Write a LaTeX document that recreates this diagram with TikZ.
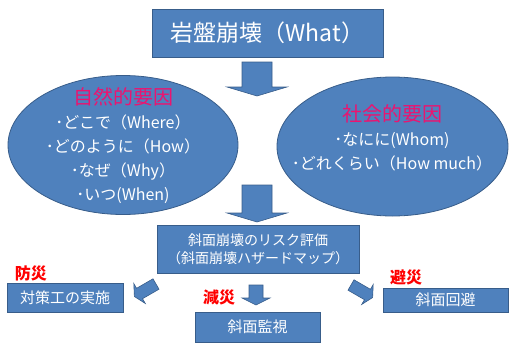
\documentclass[tikz,border=0pt]{standalone}
\usepackage{fontspec}
\setmainfont{Noto Sans CJK JP}
\usetikzlibrary{shapes.geometric}
\definecolor{boxblue}{HTML}{4F81BD}
\definecolor{boxline}{HTML}{385D8A}
\definecolor{titlepink}{HTML}{EB1470}
\definecolor{labred}{HTML}{FF0000}
\newcommand\fsz[2]{\fontsize{#1}{#2}\selectfont}
\begin{document}
\begin{tikzpicture}[x=1pt,y=-1pt,
  bluebox/.style={draw=boxline, line width=0.8pt, fill=boxblue, text=white, inner sep=0pt, align=center},
  blueoval/.style={ellipse, draw=boxline, line width=0.8pt, fill=boxblue, inner sep=0pt},
  ovaltext/.style={align=center, text=white, font=\fsz{16}{24}},
  redlabel/.style={text=labred, font=\fsz{16}{16}\bfseries, inner sep=0pt},
  pics/barrow/.style n args={4}{code={
    \filldraw[fill=boxblue, draw=boxline, line width=0.6pt]
      (0,-#2) -- (#1-#4,-#2) -- (#1-#4,-#3) -- (#1,0) -- (#1-#4,#3) -- (#1-#4,#2) -- (0,#2) -- cycle;}}
]
\useasboundingbox (0,0) rectangle (509,343);

% top box
\node[bluebox, minimum width=231, minimum height=48, font=\fsz{23}{23}] (what) at (267.5,33) {岩盤崩壊（What）};

% arrow 1
\pic[rotate=-90] at (257,62) {barrow={34}{15}{30}{9}};

% ellipses
\node[blueoval, minimum width=230, minimum height=139] (natural) at (123,145) {};
\node[blueoval, minimum width=231, minimum height=139] (social) at (392.5,146.5) {};
\node[ovaltext] (naturaltxt) at (123,146) {{\color{titlepink}\fsz{20}{24}自然的要因}\\･どこで（Where）\\･どのように（How）\\･なぜ（Why）\\･いつ(When)};
\node[ovaltext] (socialtxt) at (392,138) {{\color{titlepink}\fsz{20}{25}社会的要因}\\･なにに(Whom)\\･どれくらい（How much）};

% arrow 2
\pic[rotate=-90] at (257,185) {barrow={37}{15}{30}{9}};

% risk box
\node[bluebox, minimum width=202, minimum height=48, font=\fsz{14}{18}] (risk) at (258,249) {斜面崩壊のリスク評価\\（斜面崩壊ハザードマップ）};

% lower arrows
\pic[rotate=210] at (156,284) {barrow={25}{6}{11.5}{6}};
\pic[rotate=-90] at (256,285) {barrow={20}{7}{14}{7}};
\pic[rotate=-30] at (351,285) {barrow={25}{6}{11.5}{6}};

% lower boxes
\node[bluebox, minimum width=116, minimum height=29, font=\fsz{15}{15}] (measure) at (65,297.5) {対策工の実施};
\node[bluebox, minimum width=125, minimum height=30, font=\fsz{15}{15}] (monitor) at (257.5,327) {斜面監視};
\node[bluebox, minimum width=125, minimum height=24, font=\fsz{15}{15}] (avoid) at (445.5,300) {斜面回避};

% red labels
\node[redlabel] (bousai) at (31,273) {防災};
\node[redlabel] (gensai) at (219,297) {減災};
\node[redlabel] (hisai) at (406,277) {避災};
\end{tikzpicture}
\end{document}
